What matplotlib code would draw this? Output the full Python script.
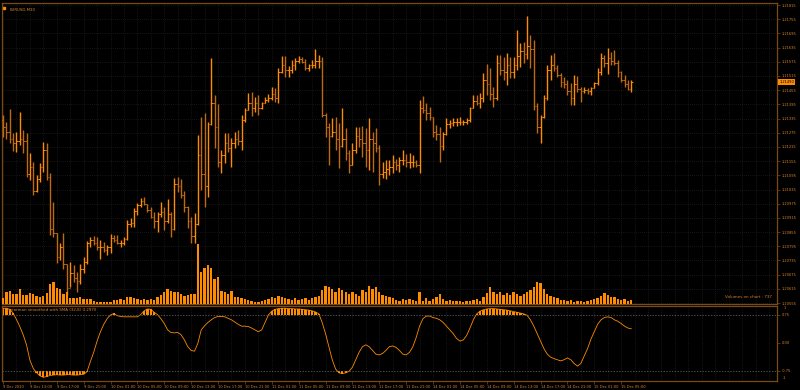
import matplotlib.pyplot as plt
from matplotlib.transforms import blended_transform_factory
import numpy as np

# EURUSD M30, 9 Dec 2020 09:00 .. 15 Dec 2020
high = [
    1.21350, 1.21321, 1.21376, 1.21274, 1.21278, 1.21363, 1.21287, 1.21274, 1.21190, 1.21151,
    1.21096, 1.21147, 1.21236, 1.21232, 1.21105, 1.20982, 1.20851, 1.20809, 1.20851, 1.20720,
    1.20728, 1.20716, 1.20686, 1.20720, 1.20750, 1.20817, 1.20834, 1.20838, 1.20834, 1.20821,
    1.20813, 1.20800, 1.20847, 1.20843, 1.20843, 1.20821, 1.20834, 1.20906, 1.20913, 1.20955,
    1.20977, 1.20998, 1.21005, 1.20974, 1.20962, 1.20941, 1.20941, 1.20984, 1.20962, 1.20994,
    1.20941, 1.21082, 1.21087, 1.21078, 1.21030, 1.20965, 1.20920, 1.20934, 1.21266, 1.21343,
    1.21357, 1.21322, 1.21590, 1.21435, 1.21397, 1.21202, 1.21273, 1.21273, 1.21252, 1.21280,
    1.21287, 1.21350, 1.21378, 1.21442, 1.21449, 1.21428, 1.21435, 1.21407, 1.21428, 1.21439,
    1.21467, 1.21463, 1.21548, 1.21600, 1.21600, 1.21558, 1.21583, 1.21590, 1.21600, 1.21597,
    1.21586, 1.21566, 1.21583, 1.21628, 1.21604, 1.21594, 1.21357, 1.21315, 1.21336, 1.21343,
    1.21318, 1.21378, 1.21294, 1.21202, 1.21230, 1.21301, 1.21301, 1.21304, 1.21294, 1.21336,
    1.21280, 1.21294, 1.21223, 1.21153, 1.21160, 1.21160, 1.21181, 1.21163, 1.21174, 1.21202,
    1.21185, 1.21188, 1.21181, 1.21160, 1.21414, 1.21431, 1.21400, 1.21385, 1.21343, 1.21308,
    1.21301, 1.21280, 1.21336, 1.21329, 1.21336, 1.21336, 1.21340, 1.21329, 1.21336, 1.21385,
    1.21435, 1.21435, 1.21442, 1.21526, 1.21566, 1.21548, 1.21470, 1.21604, 1.21604, 1.21597,
    1.21611, 1.21597, 1.21597, 1.21710, 1.21653, 1.21660, 1.21769, 1.21689, 1.21667, 1.21400,
    1.21350, 1.21435, 1.21562, 1.21604, 1.21611, 1.21562, 1.21526, 1.21512, 1.21498, 1.21484,
    1.21519, 1.21515, 1.21470, 1.21470, 1.21463, 1.21470, 1.21491, 1.21548, 1.21611, 1.21604,
    1.21632, 1.21618, 1.21625, 1.21583, 1.21538, 1.21519, 1.21498, 1.21498,
]
low = [
    1.21257, 1.21249, 1.21232, 1.21198, 1.21194, 1.21223, 1.21190, 1.21088, 1.21075, 1.21012,
    1.21025, 1.21067, 1.21109, 1.21075, 1.20843, 1.20834, 1.20724, 1.20737, 1.20699, 1.20589,
    1.20623, 1.20644, 1.20602, 1.20635, 1.20682, 1.20720, 1.20792, 1.20800, 1.20779, 1.20741,
    1.20771, 1.20758, 1.20767, 1.20813, 1.20805, 1.20792, 1.20800, 1.20821, 1.20878, 1.20878,
    1.20927, 1.20962, 1.20970, 1.20941, 1.20913, 1.20871, 1.20857, 1.20920, 1.20864, 1.20892,
    1.20833, 1.20864, 1.21026, 1.20998, 1.20941, 1.20871, 1.20810, 1.20810, 1.20885, 1.21033,
    1.20962, 1.21005, 1.21308, 1.21209, 1.21132, 1.21103, 1.21146, 1.21195, 1.21132, 1.21209,
    1.21223, 1.21202, 1.21322, 1.21371, 1.21346, 1.21364, 1.21350, 1.21374, 1.21400, 1.21407,
    1.21414, 1.21407, 1.21400, 1.21526, 1.21512, 1.21512, 1.21526, 1.21541, 1.21569, 1.21569,
    1.21541, 1.21534, 1.21548, 1.21548, 1.21548, 1.21343, 1.21259, 1.21139, 1.21259, 1.21202,
    1.21125, 1.21216, 1.21160, 1.21103, 1.21139, 1.21188, 1.21216, 1.21174, 1.21132, 1.21118,
    1.21111, 1.21195, 1.21054, 1.21082, 1.21078, 1.21096, 1.21103, 1.21118, 1.21111, 1.21139,
    1.21132, 1.21125, 1.21132, 1.21129, 1.21103, 1.21357, 1.21329, 1.21329, 1.21259, 1.21244,
    1.21153, 1.21202, 1.21266, 1.21294, 1.21304, 1.21304, 1.21308, 1.21308, 1.21312, 1.21322,
    1.21378, 1.21393, 1.21378, 1.21407, 1.21435, 1.21414, 1.21385, 1.21414, 1.21519, 1.21498,
    1.21477, 1.21505, 1.21505, 1.21541, 1.21555, 1.21569, 1.21586, 1.21548, 1.21371, 1.21273,
    1.21230, 1.21336, 1.21414, 1.21498, 1.21534, 1.21512, 1.21470, 1.21463, 1.21435, 1.21393,
    1.21393, 1.21449, 1.21407, 1.21445, 1.21439, 1.21435, 1.21463, 1.21477, 1.21519, 1.21555,
    1.21524, 1.21562, 1.21562, 1.21512, 1.21491, 1.21467, 1.21456, 1.21449,
]
close = [
    1.21300, 1.21280, 1.21250, 1.21230, 1.21240, 1.21250, 1.21240, 1.21100, 1.21130, 1.21030,
    1.21080, 1.21130, 1.21200, 1.21090, 1.20870, 1.20850, 1.20750, 1.20790, 1.20720, 1.20620,
    1.20680, 1.20660, 1.20650, 1.20700, 1.20730, 1.20810, 1.20820, 1.20810, 1.20790, 1.20790,
    1.20780, 1.20790, 1.20830, 1.20820, 1.20810, 1.20810, 1.20825, 1.20890, 1.20895, 1.20945,
    1.20970, 1.20985, 1.20975, 1.20950, 1.20920, 1.20900, 1.20930, 1.20940, 1.20900, 1.20930,
    1.20870, 1.21060, 1.21050, 1.21010, 1.20960, 1.20900, 1.20840, 1.20890, 1.21180, 1.21100,
    1.21050, 1.21310, 1.21400, 1.21300, 1.21150, 1.21180, 1.21230, 1.21210, 1.21230, 1.21250,
    1.21240, 1.21330, 1.21370, 1.21400, 1.21380, 1.21400, 1.21380, 1.21400, 1.21415, 1.21420,
    1.21440, 1.21420, 1.21530, 1.21560, 1.21540, 1.21540, 1.21560, 1.21580, 1.21585, 1.21575,
    1.21550, 1.21560, 1.21560, 1.21580, 1.21580, 1.21350, 1.21300, 1.21260, 1.21280, 1.21250,
    1.21220, 1.21250, 1.21190, 1.21140, 1.21200, 1.21260, 1.21250, 1.21230, 1.21200, 1.21250,
    1.21230, 1.21210, 1.21100, 1.21110, 1.21120, 1.21130, 1.21150, 1.21140, 1.21160, 1.21160,
    1.21150, 1.21150, 1.21150, 1.21140, 1.21380, 1.21370, 1.21360, 1.21340, 1.21280, 1.21270,
    1.21220, 1.21270, 1.21310, 1.21315, 1.21320, 1.21320, 1.21320, 1.21320, 1.21330, 1.21380,
    1.21410, 1.21400, 1.21420, 1.21500, 1.21480, 1.21440, 1.21420, 1.21570, 1.21540, 1.21530,
    1.21560, 1.21530, 1.21560, 1.21600, 1.21620, 1.21610, 1.21640, 1.21630, 1.21390, 1.21300,
    1.21340, 1.21420, 1.21540, 1.21560, 1.21550, 1.21520, 1.21490, 1.21480, 1.21450, 1.21420,
    1.21480, 1.21460, 1.21450, 1.21455, 1.21450, 1.21465, 1.21485, 1.21530, 1.21590, 1.21570,
    1.21590, 1.21580, 1.21570, 1.21530, 1.21500, 1.21480, 1.21460, 1.21490,
]
first_open = 1.21330

tick_volume = [
    300, 600, 650, 500, 500, 750, 450, 450, 550, 500,
    400, 350, 400, 550, 1000, 1100, 800, 750, 500, 600,
    300, 300, 300, 350, 250, 250, 250, 150, 100, 100,
    100, 100, 100, 200, 200, 250, 200, 350, 350, 300,
    250, 200, 250, 200, 250, 200, 350, 450, 600, 750,
    650, 600, 600, 500, 400, 450, 500, 500, 3050, 1600,
    1800, 2000, 1800, 1250, 1350, 650, 600, 500, 650, 350,
    350, 300, 250, 200, 150, 100, 100, 150, 200, 250,
    350, 300, 400, 350, 300, 250, 200, 300, 200, 250,
    300, 200, 300, 350, 400, 700, 900, 850, 750, 600,
    800, 700, 600, 500, 600, 500, 400, 700, 600, 900,
    750, 850, 600, 450, 400, 350, 300, 200, 150, 250,
    200, 250, 200, 150, 600, 150, 300, 150, 250, 350,
    500, 250, 150, 200, 150, 150, 150, 100, 150, 150,
    200, 250, 150, 350, 550, 850, 600, 500, 600, 450,
    550, 450, 600, 500, 400, 500, 600, 700, 850, 1100,
    1050, 750, 500, 400, 350, 300, 200, 200, 150, 200,
    100, 150, 150, 100, 150, 200, 250, 300, 400, 550,
    450, 350, 350, 250, 200, 250, 150, 200,
]

spearman = [
    0.93, 0.93, 0.90, 0.80, 0.63, 0.44, 0.22, -0.05, -0.46, -0.68,
    -0.80, -0.88, -0.92, -0.90, -0.87, -0.86, -0.85, -0.86, -0.86, -0.85,
    -0.85, -0.86, -0.86, -0.85, -0.84, -0.77, -0.50, -0.25, 0.05, 0.30,
    0.50, 0.65, 0.75, 0.79, 0.73, 0.71, 0.70, 0.70, 0.70, 0.70,
    0.70, 0.76, 0.86, 0.91, 0.90, 0.82, 0.76, 0.65, 0.52, 0.35,
    0.28, 0.27, 0.28, 0.22, 0.08, -0.10, -0.20, -0.22, -0.01, 0.35,
    0.46, 0.55, 0.62, 0.68, 0.71, 0.71, 0.70, 0.66, 0.62, 0.56,
    0.50, 0.45, 0.45, 0.44, 0.40, 0.35, 0.30, 0.35, 0.55, 0.75,
    0.85, 0.90, 0.92, 0.93, 0.93, 0.92, 0.92, 0.91, 0.91, 0.90,
    0.89, 0.88, 0.86, 0.83, 0.78, 0.55, 0.25, -0.10, -0.45, -0.70,
    -0.80, -0.82, -0.80, -0.76, -0.65, -0.45, -0.25, -0.10, -0.05, -0.10,
    -0.20, -0.30, -0.32, -0.28, -0.20, -0.10, -0.08, -0.12, -0.20, -0.30,
    -0.32, -0.25, -0.10, 0.15, 0.45, 0.65, 0.72, 0.72, 0.68, 0.66,
    0.62, 0.55, 0.45, 0.35, 0.25, 0.12, 0.05, 0.08, 0.20, 0.40,
    0.62, 0.78, 0.85, 0.89, 0.91, 0.92, 0.92, 0.91, 0.90, 0.89,
    0.88, 0.86, 0.84, 0.82, 0.80, 0.78, 0.74, 0.62, 0.45, 0.25,
    0.05, -0.15, -0.30, -0.38, -0.42, -0.45, -0.48, -0.45, -0.40, -0.45,
    -0.55, -0.62, -0.55, -0.35, -0.15, 0.10, 0.30, 0.50, 0.62, 0.68,
    0.70, 0.68, 0.62, 0.58, 0.52, 0.45, 0.40, 0.38,
]

price_ticks = [1.21815, 1.21755, 1.21695, 1.21635, 1.21575, 1.21515, 1.21455, 1.21395,
               1.21335, 1.21275, 1.21215, 1.21155, 1.21095, 1.21035, 1.20975, 1.20915,
               1.20855, 1.20795, 1.20735, 1.20675, 1.20615, 1.20555]
time_labels = ["9 Dec 2020", "9 Dec 13:00", "9 Dec 17:00", "9 Dec 21:00",
               "10 Dec 01:00", "10 Dec 05:00", "10 Dec 09:00", "10 Dec 13:00",
               "10 Dec 17:00", "10 Dec 21:00", "11 Dec 01:00", "11 Dec 05:00",
               "11 Dec 09:00", "11 Dec 13:00", "11 Dec 17:00", "11 Dec 21:00",
               "14 Dec 01:00", "14 Dec 05:00", "14 Dec 09:00", "14 Dec 13:00",
               "14 Dec 17:00", "14 Dec 21:00", "15 Dec 01:00", "15 Dec 05:00"]
last_price = 1.21490

bg = '#000000'
up_col = '#ff8c00'
dn_col = '#c06a10'
txt = '#d9822b'
frame = '#7a4a14'
gridc = '#2a2a2a'

high = np.array(high)
low = np.array(low)
close = np.array(close)
openp = np.r_[first_open, close[:-1]]
vol = np.array(tick_volume)
sp = np.array(spearman)
x = np.arange(len(close))

fig = plt.figure(figsize=(8, 3.9), dpi=100, facecolor=bg)
ax = fig.add_axes([0.0025, 0.2205, 0.9688, 0.7715], facecolor=bg)
ax2 = fig.add_axes([0.0025, 0.023, 0.9688, 0.1924], facecolor=bg, sharex=ax)

# price bars
cols = np.where(close >= openp, up_col, dn_col)
ax.vlines(x, low, high, colors=cols, lw=1.0, zorder=3)
ax.hlines(openp, x - 0.45, x, colors=cols, lw=0.7, zorder=3)
ax.hlines(close, x, x + 0.45, colors=cols, lw=0.7, zorder=3)

# volumes on chart (bottom fifth of the price panel)
axv = ax.twinx()
axv.bar(x, vol, width=0.7, color='#ff8c00', lw=0, zorder=2)
axv.set_ylim(0, vol.max() * 5)
axv.axis('off')

ax.set_xlim(-0.3, 230.4)
ax.set_ylim(1.20551, 1.21823)
ax.yaxis.tick_right()
ax.set_yticks(price_ticks)
ax.set_yticklabels([f'{t:.5f}' for t in price_ticks])
ax.tick_params(axis='y', colors=frame, labelcolor=txt, labelsize=2.6,
               length=2, width=0.5, pad=1.5)
ax.tick_params(axis='x', which='both', length=0, labelbottom=False)
ax.set_xticks(np.arange(0, 231, 8))
ax.set_xticks(np.arange(0, 231, 4), minor=True)
ax.grid(True, which='both', axis='x', color=gridc, ls=(0, (1, 2)), lw=0.5)
ax.grid(True, which='major', axis='y', color=gridc, ls=(0, (1, 2)), lw=0.5)
ax.set_axisbelow(True)

ax.text(0.010, 0.985, 'EURUSD,M30', transform=ax.transAxes, fontsize=2.8,
        color=txt, va='top', ha='left')
ax.plot([0.003], [0.9845], marker='s', ms=1.6, color=up_col,
        transform=ax.transAxes, clip_on=False)
ax.text(0.9935, 0.023, 'Volumes on chart : 737', transform=ax.transAxes,
        fontsize=2.9, color=txt, ha='right', va='center')
tr = blended_transform_factory(ax.transAxes, ax.transData)
ax.text(1.003, last_price, f'{last_price:.5f}', transform=tr, fontsize=2.6,
        color='#000000', ha='left', va='center', zorder=5,
        bbox=dict(boxstyle='square,pad=0.25', fc=up_col, ec='none'))

# Spearman indicator
hi = sp > 0.75
lo = sp < -0.75
ax2.bar(x[hi], sp[hi] - 0.75, bottom=0.75, width=0.7, color=up_col, lw=0)
ax2.bar(x[lo], sp[lo] + 0.75, bottom=-0.75, width=0.7, color=up_col, lw=0)
ax2.plot(x, sp, color=up_col, lw=0.6)
for lv in (0.75, -0.75):
    ax2.axhline(lv, color='#6a6a6a', ls=(0, (2, 2)), lw=0.5)
ax2.set_ylim(-1.02, 0.99)
ax2.yaxis.tick_right()
ax2.set_yticks([0.75, 0.0, -0.75])
ax2.set_yticklabels(['0.75', '0.00', '-0.75'])
ax2.tick_params(axis='y', colors=frame, labelcolor=txt, labelsize=2.6,
                length=2, width=0.5, pad=1.5)
ax2.set_xticks(np.arange(0, 8 * len(time_labels), 8))
ax2.set_xticklabels(time_labels, ha='left')
ax2.set_xticks(np.arange(0, 231, 4), minor=True)
ax2.tick_params(axis='x', which='major', colors=frame, labelcolor=txt,
                labelsize=2.6, length=2, width=0.5, pad=1)
ax2.tick_params(axis='x', which='minor', length=0)
ax2.grid(True, which='both', axis='x', color=gridc, ls=(0, (1, 2)), lw=0.5)
ax2.set_axisbelow(True)
ax2.text(0.005, 0.945, 'Spearman smoothed with SMA (32,8) 0.2970',
         transform=ax2.transAxes, fontsize=2.9, color=txt, va='center')
fig.text(0.979, 1 - 308 / 390, '1', fontsize=2.6, color=txt, va='center')
fig.text(0.979, 1 - 378 / 390, '-1', fontsize=2.6, color=txt, va='center')

for a in (ax, ax2):
    for s in a.spines.values():
        s.set_color(frame)
        s.set_linewidth(0.9)

fig.savefig('out.png', dpi=100, facecolor=bg)
